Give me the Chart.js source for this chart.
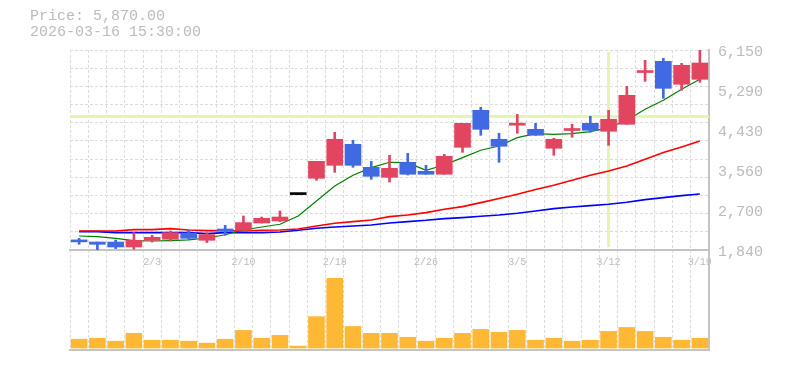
<!DOCTYPE html>
<html lang="ja">
<head>
<meta charset="UTF-8">
<title>Price chart</title>
<style>
  body { margin: 0; background: #fff; }
  .wrap { position: relative; width: 785px; height: 370px; }
  .info {
    position: absolute; left: 30px; top: 9px;
    font-family: "Liberation Mono", monospace; font-size: 15px; line-height: 16px;
    color: #bbb; white-space: pre;
  }
  canvas { position: absolute; left: 0; top: 0; }
</style>
</head>
<body>
<div class="wrap">
  <canvas id="chart" width="785" height="370"></canvas>
  <div class="info">Price: 5,870.00
2026-03-16 15:30:00</div>
</div>
<script src="https://cdn.jsdelivr.net/npm/chart.js"></script>
<script>
// trading days
const dates = ['1/28','1/29','1/30','2/2','2/3','2/4','2/5','2/6','2/9','2/10',
  '2/12','2/13','2/16','2/17','2/18','2/19','2/20','2/24','2/25','2/26',
  '2/27','3/2','3/3','3/4','3/5','3/6','3/9','3/10','3/11','3/12',
  '3/13','3/16','3/17','3/18','3/19'];
const shownDates = ['2/3','2/10','2/18','2/26','3/5','3/12','3/19'];

const openP  = [2025,2012,2012,1905,2049,2071,2206,2049,2260,2265,2422,2465,3034,3385,3665,4118,3622,3407,3730,3536,
                3472,4053,4850,4226,4529,4441,4032,4415,4570,4398,4549,5664,5906,5411,5518];
const highP  = [2092,2012,2055,2215,2157,2249,2265,2215,2372,2573,2551,2680,3034,3751,4377,4204,3751,3881,3924,3665,
                3902,4570,4915,4355,4764,4570,4247,4549,4721,4850,5368,5928,5971,5863,6150];
const lowP   = [1963,1845,1870,1855,2012,2034,2071,2000,2157,2249,2422,2452,3034,3342,3514,3622,3364,3305,3457,3472,
                3472,3945,4312,3730,4355,4312,3881,4269,4377,4096,4549,5475,5109,5281,5454];
const closeP = [2015,1963,1905,2049,2114,2215,2092,2172,2250,2430,2523,2551,3034,3751,4226,3665,3428,3601,3472,3472,
                3859,4570,4441,4075,4539,4312,4226,4425,4420,4657,5174,5674,5324,5820,5870];

const ma5  = [2142,2129,2092,2043,2034,2043,2060,2099,2168,2271,2336,2394,2573,2896,3219,3450,3616,3730,3723,3558,
              3672,3831,3989,4081,4262,4348,4333,4348,4392,4478,4635,4872,5066,5303,5519];
const ma25 = [2249,2249,2249,2280,2280,2301,2271,2258,2258,2249,2265,2271,2293,2357,2415,2452,2487,2560,2594,2646,
              2717,2775,2861,2948,3040,3142,3234,3342,3450,3542,3650,3795,3939,4060,4189];
const ma75 = [2237,2237,2215,2215,2215,2215,2215,2193,2215,2215,2215,2228,2265,2308,2336,2357,2379,2422,2452,2480,
              2517,2538,2566,2594,2631,2680,2732,2767,2797,2825,2868,2926,2969,3012,3047];

const volume = [90,100,70,150,80,80,70,50,90,180,100,130,20,320,710,220,150,150,110,70,
                100,150,190,160,180,80,100,70,80,170,210,170,110,80,100];

const priceTicks = [1840, 2700, 3560, 4430, 5290, 6150];
const crossIndex = 29;
const crossPrice = 4715;

const UP = '#e2455f', DOWN = '#4169e1', FLAT = '#000000';
const candleColor = dates.map((_, i) => closeP[i] > openP[i] ? UP : (closeP[i] < openP[i] ? DOWN : FLAT));
const GRID = '#dcdcdc', AXIS = '#c4c4c4', TEXT = '#bbbbbb';
const MONO = '"Liberation Mono", "DejaVu Sans Mono", monospace';

const crosshair = {
  id: 'crosshair',
  beforeDatasetsDraw(chart) {
    const {ctx, chartArea, scales} = chart;
    const y = scales.y.getPixelForValue(crossPrice);
    const x = scales.x.getPixelForValue(crossIndex);
    ctx.save();
    ctx.strokeStyle = '#e6f5ae';
    ctx.lineWidth = 3;
    ctx.beginPath();
    ctx.moveTo(chartArea.left, y);
    ctx.lineTo(chartArea.right, y);
    ctx.moveTo(x, scales.y.top + 2);
    ctx.lineTo(x, scales.y.bottom - 3);
    ctx.stroke();
    ctx.restore();
  }
};

new Chart(document.getElementById('chart'), {
  data: {
    labels: dates,
    datasets: [
      { type: 'bar', data: dates.map((_, i) => [openP[i], closeP[i]]), backgroundColor: candleColor,
        barThickness: 16, minBarLength: 2, grouped: false, yAxisID: 'y', order: 1 },
      { type: 'bar', data: dates.map((_, i) => [lowP[i], highP[i]]), backgroundColor: candleColor,
        barThickness: 2, minBarLength: 1, grouped: false, yAxisID: 'y', order: 2 },
      { type: 'line', data: ma5, borderColor: '#008000', borderWidth: 1.2, pointRadius: 0, yAxisID: 'y', order: 5 },
      { type: 'line', data: ma25, borderColor: '#ff0000', borderWidth: 1.6, pointRadius: 0, yAxisID: 'y', order: 6 },
      { type: 'line', data: ma75, borderColor: '#0000ff', borderWidth: 1.6, pointRadius: 0, yAxisID: 'y', order: 7 },
      { type: 'bar', data: volume, backgroundColor: '#ffb835', barThickness: 16, grouped: false, yAxisID: 'yv', order: 3 }
    ]
  },
  options: {
    responsive: false,
    animation: false,
    devicePixelRatio: 1,
    layout: { padding: { left: 70, top: 50, right: 13, bottom: 20 } },
    plugins: { legend: { display: false }, tooltip: { enabled: false } },
    scales: {
      x: {
        type: 'category', position: 'bottom', offset: true,
        grid: { offset: true, color: GRID, drawTicks: false },
        border: { display: true, color: AXIS, width: 2, dash: [3, 2] },
        ticks: { display: false }
      },
      xl: {
        type: 'category', position: { y: 1840 }, offset: true,
        grid: { display: false, drawTicks: false },
        border: { display: true, color: AXIS, width: 2 },
        ticks: {
          autoSkip: false, maxRotation: 0, padding: 6, color: TEXT,
          font: { family: MONO, size: 10 },
          callback: (v, i) => shownDates.includes(dates[i]) ? dates[i] : ''
        }
      },
      y: {
        type: 'linear', position: 'right', stack: 'v', stackWeight: 2,
        min: 1840, max: 6150,
        afterBuildTicks: axis => { axis.ticks = priceTicks.map(v => ({ value: v })); },
        grid: { display: false, drawTicks: false },
        border: { display: true, color: AXIS, width: 2 },
        ticks: {
          autoSkip: false, padding: 9, labelOffset: 2, color: TEXT, font: { family: MONO, size: 15 },
          callback: v => v.toLocaleString('en-US')
        }
      },
      yv: {
        type: 'linear', position: 'right', stack: 'v', stackWeight: 1,
        min: -20, max: 1000,
        grid: { display: false, drawTicks: false, drawOnChartArea: false },
        border: { display: true, color: AXIS, width: 2 },
        ticks: { display: false }
      },
      // price-panel grid: 11 bands over the top two thirds, hidden below 0
      yg: {
        type: 'linear', position: 'left',
        min: -5.5, max: 11,
        grid: { color: c => c.tick.value >= 0 ? GRID : 'rgba(0,0,0,0)', drawTicks: false },
        border: { display: false, dash: [3, 2] },
        ticks: { display: false, stepSize: 1 }
      }
    }
  },
  plugins: [crosshair]
});
</script>
</body>
</html>
